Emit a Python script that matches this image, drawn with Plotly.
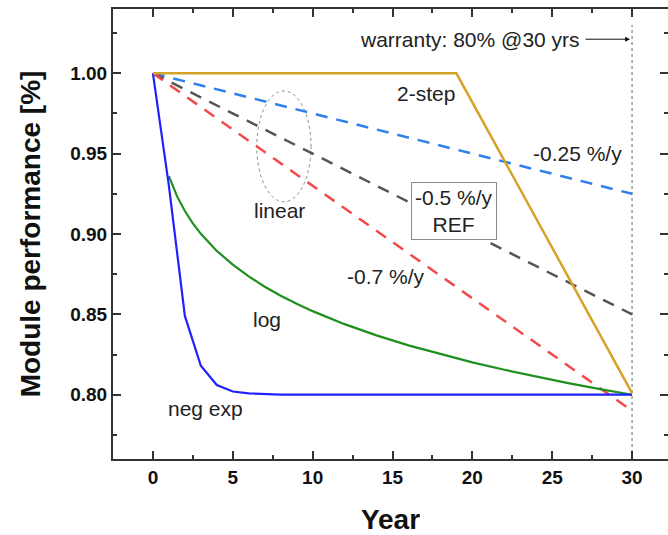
import plotly.graph_objects as go

# Module performance degradation scenarios over a 30-year lifetime
years_2step = [0, 19, 30]
perf_2step = [1.0, 1.0, 0.801]

years_lin = [0, 30]
perf_lin_025 = [1.0, 0.925]   # -0.25 %/y
perf_lin_050 = [1.0, 0.85]    # -0.5 %/y (REF)
perf_lin_070 = [1.0, 0.79]    # -0.7 %/y

years_log = [1, 1.5, 2, 2.5, 3, 4, 5, 6, 7, 8, 9, 10, 12, 14, 16, 18, 20,
             22, 24, 26, 28, 30]
perf_log = [0.936, 0.9237, 0.9143, 0.9066, 0.9001, 0.8895, 0.8809, 0.8736,
            0.8672, 0.8616, 0.8566, 0.8520, 0.8439, 0.8369, 0.8307, 0.8252,
            0.8201, 0.8155, 0.8112, 0.8072, 0.8035, 0.800]

years_exp = [0, 1, 2, 3, 4, 5, 6, 7, 8, 10, 15, 20, 25, 30]
perf_exp = [1.0, 0.93, 0.849, 0.818, 0.806, 0.802, 0.8008, 0.8003, 0.8001,
            0.800, 0.800, 0.800, 0.800, 0.800]

WARRANTY_YEAR = 30

FONT = "Liberation Sans, Arial, sans-serif"
AXIS_COLOR = "#333333"
TEXT_COLOR = "#222222"
DASH = "12px,9px"

fig = go.Figure()

fig.add_trace(go.Scatter(x=years_lin, y=perf_lin_025, mode="lines",
                         line=dict(color="#2f80ed", width=2.5, dash=DASH)))
fig.add_trace(go.Scatter(x=years_lin, y=perf_lin_050, mode="lines",
                         line=dict(color="#555555", width=2.5, dash=DASH)))
fig.add_trace(go.Scatter(x=years_lin, y=perf_lin_070, mode="lines",
                         line=dict(color="#f24a4a", width=2.5, dash=DASH)))
fig.add_trace(go.Scatter(x=years_log, y=perf_log, mode="lines",
                         line=dict(color="#1f8f1f", width=2.2)))
fig.add_trace(go.Scatter(x=years_exp, y=perf_exp, mode="lines",
                         line=dict(color="#1f22ff", width=2.2)))
fig.add_trace(go.Scatter(x=years_2step, y=perf_2step, mode="lines",
                         line=dict(color="#d6a32a", width=2.5)))
# carrier for the mirrored right-hand ticks
fig.add_trace(go.Scatter(x=[None], y=[None], yaxis="y2", mode="lines",
                         hoverinfo="skip"))

# dotted ellipse grouping the linear scenarios
fig.add_shape(type="circle", xref="x", yref="y", x0=6.5, x1=9.9, y0=0.920, y1=0.989,
              line=dict(color="#8a8a8a", width=1, dash="dot"), layer="below")

# warranty limit
fig.add_shape(type="line", xref="x", yref="y", x0=WARRANTY_YEAR, x1=WARRANTY_YEAR,
              y0=0.76, y1=1.03, line=dict(color="#9a9a9a", width=1.5, dash="dot"),
              layer="below")

txt = dict(family=FONT, size=21, color=TEXT_COLOR)
labels = [
    ("2-step", 17.1, 0.9875),
    ("-0.25 %/y", 26.6, 0.950),
    ("linear", 7.95, 0.9146),
    ("-0.7 %/y", 14.6, 0.8735),
    ("log", 7.15, 0.8467),
    ("neg exp", 3.3, 0.7913),
]
for t, x, y in labels:
    fig.add_annotation(text=t, x=x, y=y, xref="x", yref="y", showarrow=False, font=txt)

fig.add_annotation(text="-0.5 %/y<br>REF", x=18.88, y=0.9143, xref="x", yref="y",
                   showarrow=False, font=txt, align="center", bgcolor="white",
                   bordercolor="#8a8a8a", borderwidth=1, borderpad=3)

fig.add_annotation(text="warranty: 80% @30 yrs", x=WARRANTY_YEAR, y=1.0212,
                   xref="x", yref="y", ax=-162, ay=0, showarrow=True,
                   arrowhead=2, arrowsize=1, arrowwidth=1, arrowcolor="#111111",
                   standoff=2, borderpad=5,
                   font=dict(family=FONT, size=21, color=TEXT_COLOR))

tickfont = dict(family=FONT, size=19, color="#111111", weight="bold")

fig.update_layout(
    width=668, height=535,
    margin=dict(l=113, r=0, t=9, b=76),
    paper_bgcolor="white", plot_bgcolor="white",
    showlegend=False,
    xaxis=dict(
        range=[-2.5, 32.25], tick0=0, dtick=5,
        showline=True, linecolor=AXIS_COLOR, linewidth=2, mirror="ticks",
        ticks="inside", ticklen=8, tickwidth=2, tickcolor=AXIS_COLOR,
        minor=dict(dtick=2.5, ticks="inside", ticklen=4, tickwidth=2, tickcolor=AXIS_COLOR),
        showgrid=False, zeroline=False, tickfont=tickfont,
        title=dict(text="Year", font=dict(family=FONT, size=28, color="#111111", weight="bold"),
                   standoff=23),
    ),
    yaxis=dict(
        range=[0.76, 1.04], tick0=0.8, dtick=0.05, tickformat=".2f",
        showline=True, linecolor=AXIS_COLOR, linewidth=2, mirror=False,
        ticks="inside", ticklen=8, tickwidth=2, tickcolor=AXIS_COLOR,
        minor=dict(dtick=0.025, ticks="inside", ticklen=4, tickwidth=2, tickcolor=AXIS_COLOR),
        showgrid=False, zeroline=False, tickfont=tickfont,
        title=dict(text="Module performance [%]",
                   font=dict(family=FONT, size=28, color="#111111", weight="bold"),
                   standoff=21),
    ),
    yaxis2=dict(
        range=[0.76, 1.04], tick0=0.8, dtick=0.05, overlaying="y", side="right",
        showline=False, ticks="inside", ticklen=8, tickwidth=2, tickcolor=AXIS_COLOR,
        minor=dict(dtick=0.025, ticks="inside", ticklen=4, tickwidth=2, tickcolor=AXIS_COLOR),
        showgrid=False, zeroline=False, showticklabels=False,
    ),
)

fig.write_html("out.html")
